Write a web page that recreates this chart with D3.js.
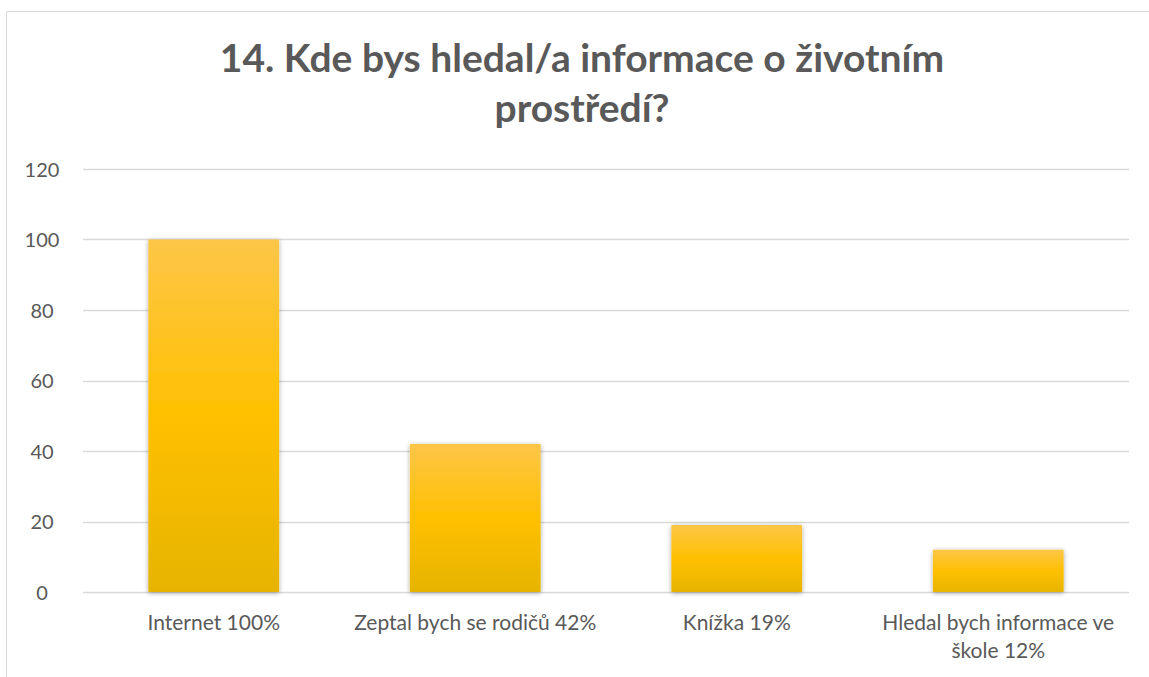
<!DOCTYPE html>
<html>
<head>
<meta charset="utf-8">
<script src="https://cdn.jsdelivr.net/npm/d3@7"></script>
<style>
    body { margin: 0; background: #ffffff; }
    svg text { font-family: Lato, "Open Sans", sans-serif; fill: #595959; }
</style>
</head>
<body>
<div id="chart"></div>
<script>
// chart data
const categories = ["Internet 100%", "Zeptal bych se rodičů 42%", "Knížka 19%", "Hledal bych informace ve škole 12%"];
const values = [100, 42, 19, 12];
const yTicks = [0, 20, 40, 60, 80, 100, 120];
const titleLines = ["14. Kde bys hledal/a informace o životním", "prostředí?"];

let width = 1149;
let height = 677;
let margin = {top: 169, right: 20, bottom: 85, left: 83};
let innerW = 1129 - margin.left;
let innerH = 592 - margin.top;

let svg = d3.select("#chart")
    .append("svg")
    .attr("width", width)
    .attr("height", height);

// gradient + shadow like office charts
let defs = svg.append("defs");
let grad = defs.append("linearGradient")
    .attr("id", "barGrad")
    .attr("x1", 0).attr("y1", 0).attr("x2", 0).attr("y2", 1);
grad.append("stop").attr("offset", "0%").attr("stop-color", "#fdc648");
grad.append("stop").attr("offset", "50%").attr("stop-color", "#ffc000");
grad.append("stop").attr("offset", "100%").attr("stop-color", "#e6b400");

let shadow = defs.append("filter")
    .attr("id", "shadow")
    .attr("x", "-20%").attr("y", "-20%").attr("width", "140%").attr("height", "140%");
shadow.append("feGaussianBlur").attr("in", "SourceAlpha").attr("stdDeviation", 2.5);
shadow.append("feOffset").attr("dx", 0).attr("dy", 1).attr("result", "blur");
shadow.append("feComponentTransfer").append("feFuncA").attr("type", "linear").attr("slope", 0.35);
let merge = shadow.append("feMerge");
merge.append("feMergeNode");
merge.append("feMergeNode").attr("in", "SourceGraphic");

// chart area border (left + top only visible)
svg.append("path")
    .attr("d", `M6.5,${height} V11.5 H${width}`)
    .attr("fill", "none")
    .attr("stroke", "#d9d9d9")
    .attr("stroke-width", 1);

// title
svg.append("text")
    .attr("x", 582)
    .attr("y", 72)
    .attr("text-anchor", "middle")
    .style("font-size", "39px")
    .style("font-weight", "bold")
    .selectAll("tspan")
    .data(titleLines)
    .join("tspan")
    .attr("x", 582)
    .attr("dy", (d, i) => i === 0 ? 0 : 50)
    .text(d => d);

let g = svg.append("g")
    .attr("transform", `translate(${margin.left},${margin.top})`);

let x = d3.scaleBand()
    .domain(categories)
    .range([0, innerW])
    .paddingInner(0.5)
    .paddingOuter(0.25);

let y = d3.scaleLinear()
    .domain([0, 120])
    .range([innerH, 0]);

// gridlines
g.selectAll(".grid")
    .data(yTicks)
    .join("line")
    .attr("class", "grid")
    .attr("x1", 0)
    .attr("x2", innerW)
    .attr("y1", d => Math.round(y(d)) + 0.5)
    .attr("y2", d => Math.round(y(d)) + 0.5)
    .attr("stroke", "#d9d9d9")
    .attr("stroke-width", 1.5);

// y tick labels
let yAxis = g.append("g")
    .call(d3.axisLeft(y).tickValues(yTicks).tickSize(0).tickPadding(20));
yAxis.select(".domain").remove();
yAxis.selectAll("text")
    .attr("x", -41)
    .attr("dy", "0.35em")
    .attr("text-anchor", "middle")
    .style("font-size", "20px")
    .style("font-family", "Lato, 'Open Sans', sans-serif")
    .attr("fill", "#595959");

// bars
g.selectAll(".bar")
    .data(values)
    .join("rect")
    .attr("class", "bar")
    .attr("x", (d, i) => x(categories[i]))
    .attr("y", d => y(d))
    .attr("width", x.bandwidth())
    .attr("height", d => innerH - y(d))
    .attr("fill", "url(#barGrad)")
    .attr("filter", "url(#shadow)");

// x labels, wrapped to band width
g.selectAll(".xlabel")
    .data(categories)
    .join("text")
    .attr("class", "xlabel")
    .attr("text-anchor", "middle")
    .attr("y", 630 - margin.top)
    .style("font-size", "21px")
    .each(function (d) {
        let el = d3.select(this);
        let cx = x(d) + x.bandwidth() / 2;
        let lines = d === "Hledal bych informace ve škole 12%"
            ? ["Hledal bych informace ve", "škole 12%"]
            : [d];
        el.selectAll("tspan")
            .data(lines)
            .join("tspan")
            .attr("x", cx)
            .attr("dy", (l, i) => i === 0 ? 0 : 28)
            .text(l => l);
    });
</script>
</body>
</html>
